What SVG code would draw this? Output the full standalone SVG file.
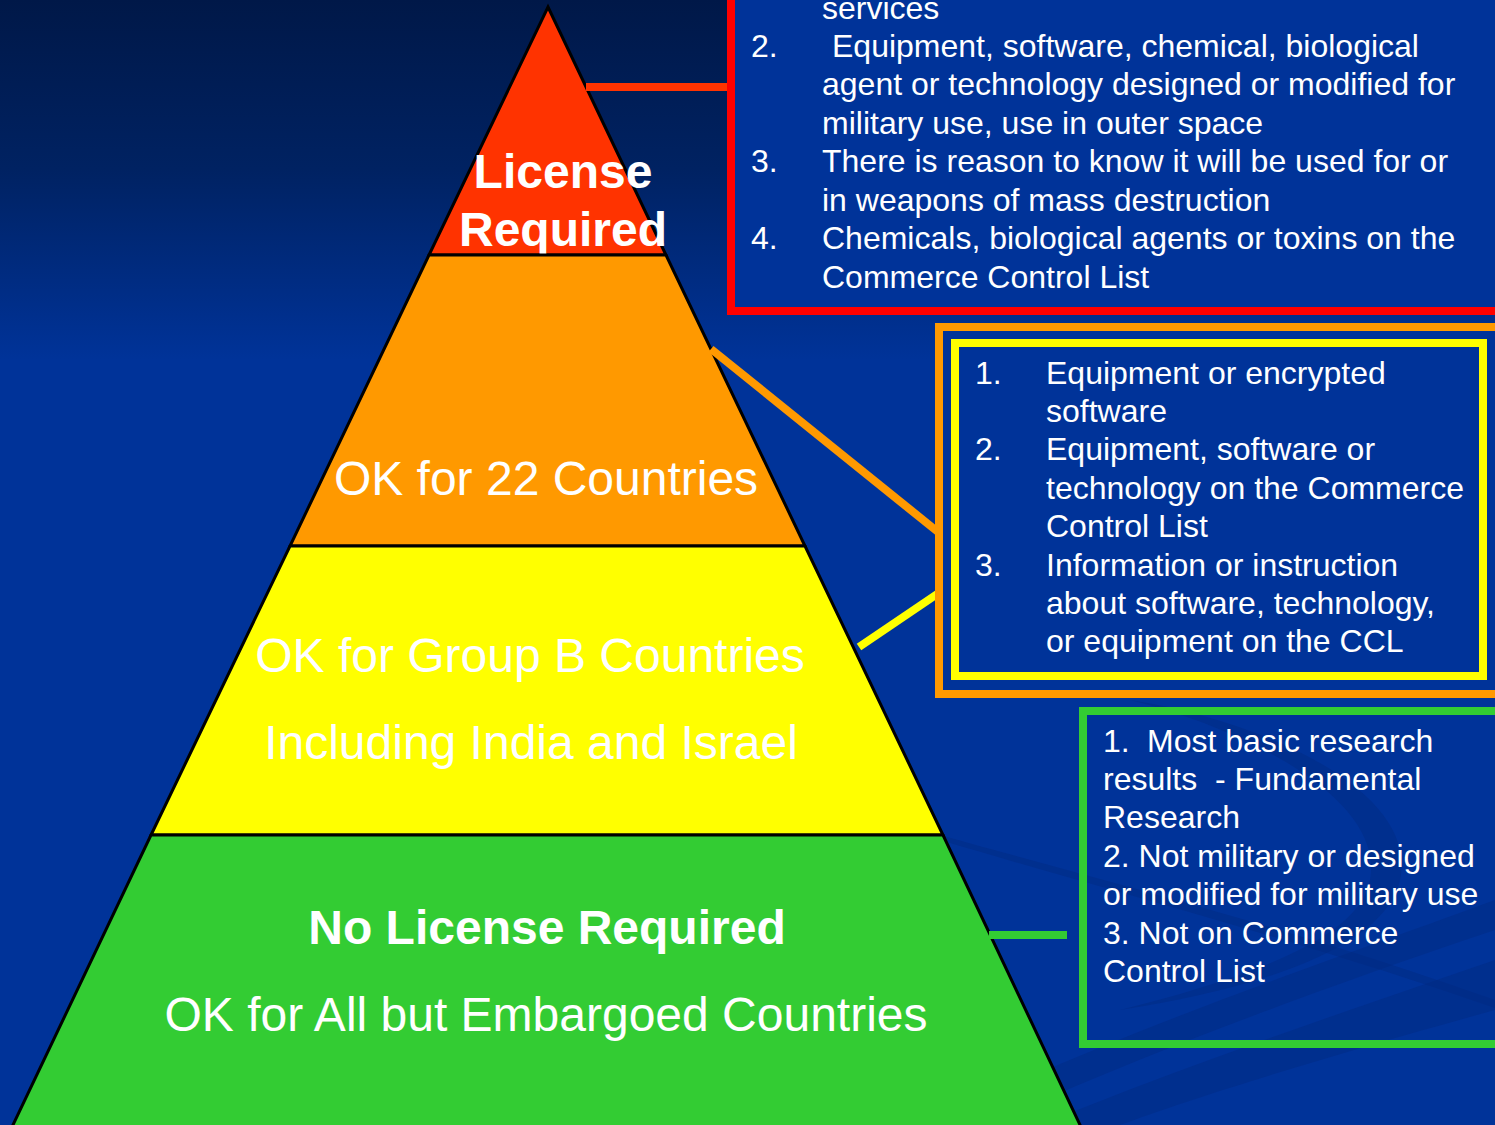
<svg xmlns="http://www.w3.org/2000/svg" width="1495" height="1125" viewBox="0 0 1495 1125">
  <defs>
    <linearGradient id="bg" x1="0" y1="0" x2="0" y2="1125" gradientUnits="userSpaceOnUse">
      <stop offset="0" stop-color="#001848"/>
      <stop offset="0.15" stop-color="#002262"/>
      <stop offset="0.32" stop-color="#003399"/>
      <stop offset="1" stop-color="#003399"/>
    </linearGradient>
  </defs>
  <style>
    .band { stroke: #000; stroke-width: 3; stroke-linejoin: miter; }
    .lbl { font-family: "Liberation Sans", Arial, sans-serif; fill: #fff; text-anchor: middle; font-size: 48px; }
    .bold { font-weight: bold; }
    .item { font-family: "Liberation Sans", Arial, sans-serif; fill: #fff; font-size: 32px; }
    .frame { fill: #003399; stroke-width: 8; }
    .link { stroke-width: 8; fill: none; }
    .swoosh { fill: #002a80; opacity: 0.45; }
  </style>

  <!-- backdrop with faint swooshes -->
  <rect x="0" y="0" width="1495" height="1125" fill="url(#bg)"/>
  <g id="backdrop-swooshes">
    <path class="swoosh" d="M940 835 C1100 880 1300 930 1495 1000 L1495 1008 C1300 940 1100 888 940 840 Z"/>
    <path class="swoosh" d="M1040 1125 C1200 1060 1350 1010 1495 960 L1495 1010 C1350 1050 1200 1095 1120 1125 Z"/>
    <path class="swoosh" d="M1000 1090 C1180 1010 1360 950 1495 900 L1495 930 C1360 975 1180 1040 1020 1110 Z"/>
    <path class="swoosh" d="M1130 700 C1260 720 1420 790 1400 880 C1385 950 1250 990 1120 1010 C1240 980 1360 940 1370 880 C1385 800 1250 730 1130 700 Z"/>
  </g>

  <!-- pyramid tiers -->
  <g id="tier-license-required">
    <polygon class="band" fill="#ff3300" points="548,7 666,255 429,255"/>
    <text class="lbl bold" x="563" y="188">License</text>
    <text class="lbl bold" x="563" y="246">Required</text>
  </g>
  <g id="tier-22-countries">
    <polygon class="band" fill="#ff9900" points="429,255 666,255 805,546 290,546"/>
    <text class="lbl" x="546" y="495">OK for 22 Countries</text>
  </g>
  <g id="tier-group-b">
    <polygon class="band" fill="#ffff00" points="290,546 805,546 943,835 151,835"/>
    <text class="lbl" x="530" y="672">OK for Group B Countries</text>
    <text class="lbl" x="531" y="759">Including India and Israel</text>
  </g>
  <g id="tier-no-license">
    <polygon class="band" fill="#33cc33" points="151,835 943,835 1081,1127 12,1127"/>
    <text class="lbl bold" x="547" y="944">No License Required</text>
    <text class="lbl" x="546" y="1031">OK for All but Embargoed Countries</text>
  </g>

  <!-- connectors from tiers to their boxes -->
  <g id="connectors">
    <line class="link" stroke="#ff3300" x1="586" y1="87" x2="731" y2="87"/>
    <line class="link" stroke="#ff9900" x1="711" y1="349" x2="938" y2="532"/>
    <line class="link" stroke="#ffff00" x1="859" y1="647" x2="952" y2="584"/>
    <line class="link" stroke="#33cc33" x1="989" y1="935" x2="1067" y2="935"/>
  </g>

  <!-- license-required criteria -->
  <g id="box-license">
    <rect class="frame" stroke="#ff0000" x="731" y="-20" width="800" height="331"/>
    <text class="item" x="822" y="19">services</text>
    <text class="item" x="751" y="57">2.</text>
    <text class="item" x="832" y="57">Equipment, software, chemical, biological</text>
    <text class="item" x="822" y="95">agent or technology designed or modified for</text>
    <text class="item" x="822" y="134">military use, use in outer space</text>
    <text class="item" x="751" y="172">3.</text>
    <text class="item" x="822" y="172">There is reason to know it will be used for or</text>
    <text class="item" x="822" y="211">in weapons of mass destruction</text>
    <text class="item" x="751" y="249">4.</text>
    <text class="item" x="822" y="249">Chemicals, biological agents or toxins on the</text>
    <text class="item" x="822" y="288">Commerce Control List</text>
  </g>

  <!-- 22-country / group B criteria -->
  <g id="box-export">
    <rect class="frame" stroke="#ff9900" x="939" y="327" width="600" height="367"/>
    <rect class="frame" stroke="#ffff00" x="955" y="343" width="528" height="333"/>
    <text class="item" x="975" y="384">1.</text>
    <text class="item" x="1046" y="384">Equipment or encrypted</text>
    <text class="item" x="1046" y="422">software</text>
    <text class="item" x="975" y="460">2.</text>
    <text class="item" x="1046" y="460">Equipment, software or</text>
    <text class="item" x="1046" y="499">technology on the Commerce</text>
    <text class="item" x="1046" y="537">Control List</text>
    <text class="item" x="975" y="576">3.</text>
    <text class="item" x="1046" y="576">Information or instruction</text>
    <text class="item" x="1046" y="614">about software, technology,</text>
    <text class="item" x="1046" y="652">or equipment on the CCL</text>
  </g>

  <!-- no-license criteria -->
  <g id="box-no-license">
    <rect class="frame" stroke="#33cc33" x="1083" y="711" width="500" height="333" style="fill:none"/>
    <text class="item" x="1103" y="752">1.</text>
    <text class="item" x="1147" y="752">Most basic research</text>
    <text class="item" x="1103" y="790" xml:space="preserve">results  - Fundamental</text>
    <text class="item" x="1103" y="828">Research</text>
    <text class="item" x="1103" y="867">2. Not military or designed</text>
    <text class="item" x="1103" y="905">or modified for military use</text>
    <text class="item" x="1103" y="944">3. Not on Commerce</text>
    <text class="item" x="1103" y="982">Control List</text>
  </g>
</svg>
